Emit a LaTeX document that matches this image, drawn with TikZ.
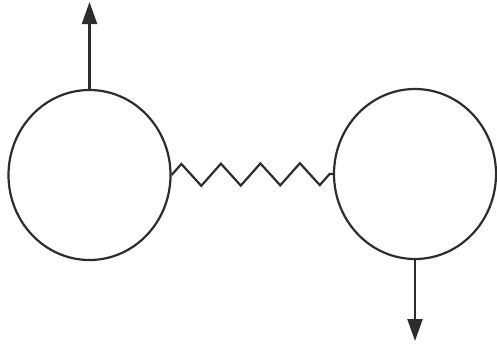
\documentclass[tikz,border=0pt]{standalone}
\usetikzlibrary{shapes.geometric,arrows.meta,decorations.pathmorphing}
\definecolor{ink}{RGB}{45,45,45}

\begin{document}
\begin{tikzpicture}[
    x=1pt,y=-1pt,
    ball/.style={ellipse,draw=ink,line width=2.2pt,inner sep=0pt,minimum width=162pt,minimum height=170pt},
    spring/.style={draw=ink,line width=2.2pt,decorate,decoration={zigzag,segment length=39.5pt,amplitude=11pt}},
    arr/.style={-{Triangle[length=22pt,width=15pt]},draw=ink,fill=ink,line width=2.2pt},
]
\useasboundingbox (0,0) rectangle (497,351);

% Masses
\node[ball] (left) at (89.5,175) {};
\node[ball] (right) at (415,174) {};

% Arrow ends
\coordinate (up) at (89.5,2);
\coordinate (down) at (415,341);

% Connections
\draw[spring] (left.east) -- (right.west);
\draw[arr] (left.north) -- (up);
\draw[arr] (right.south) -- (down);
\end{tikzpicture}
\end{document}
